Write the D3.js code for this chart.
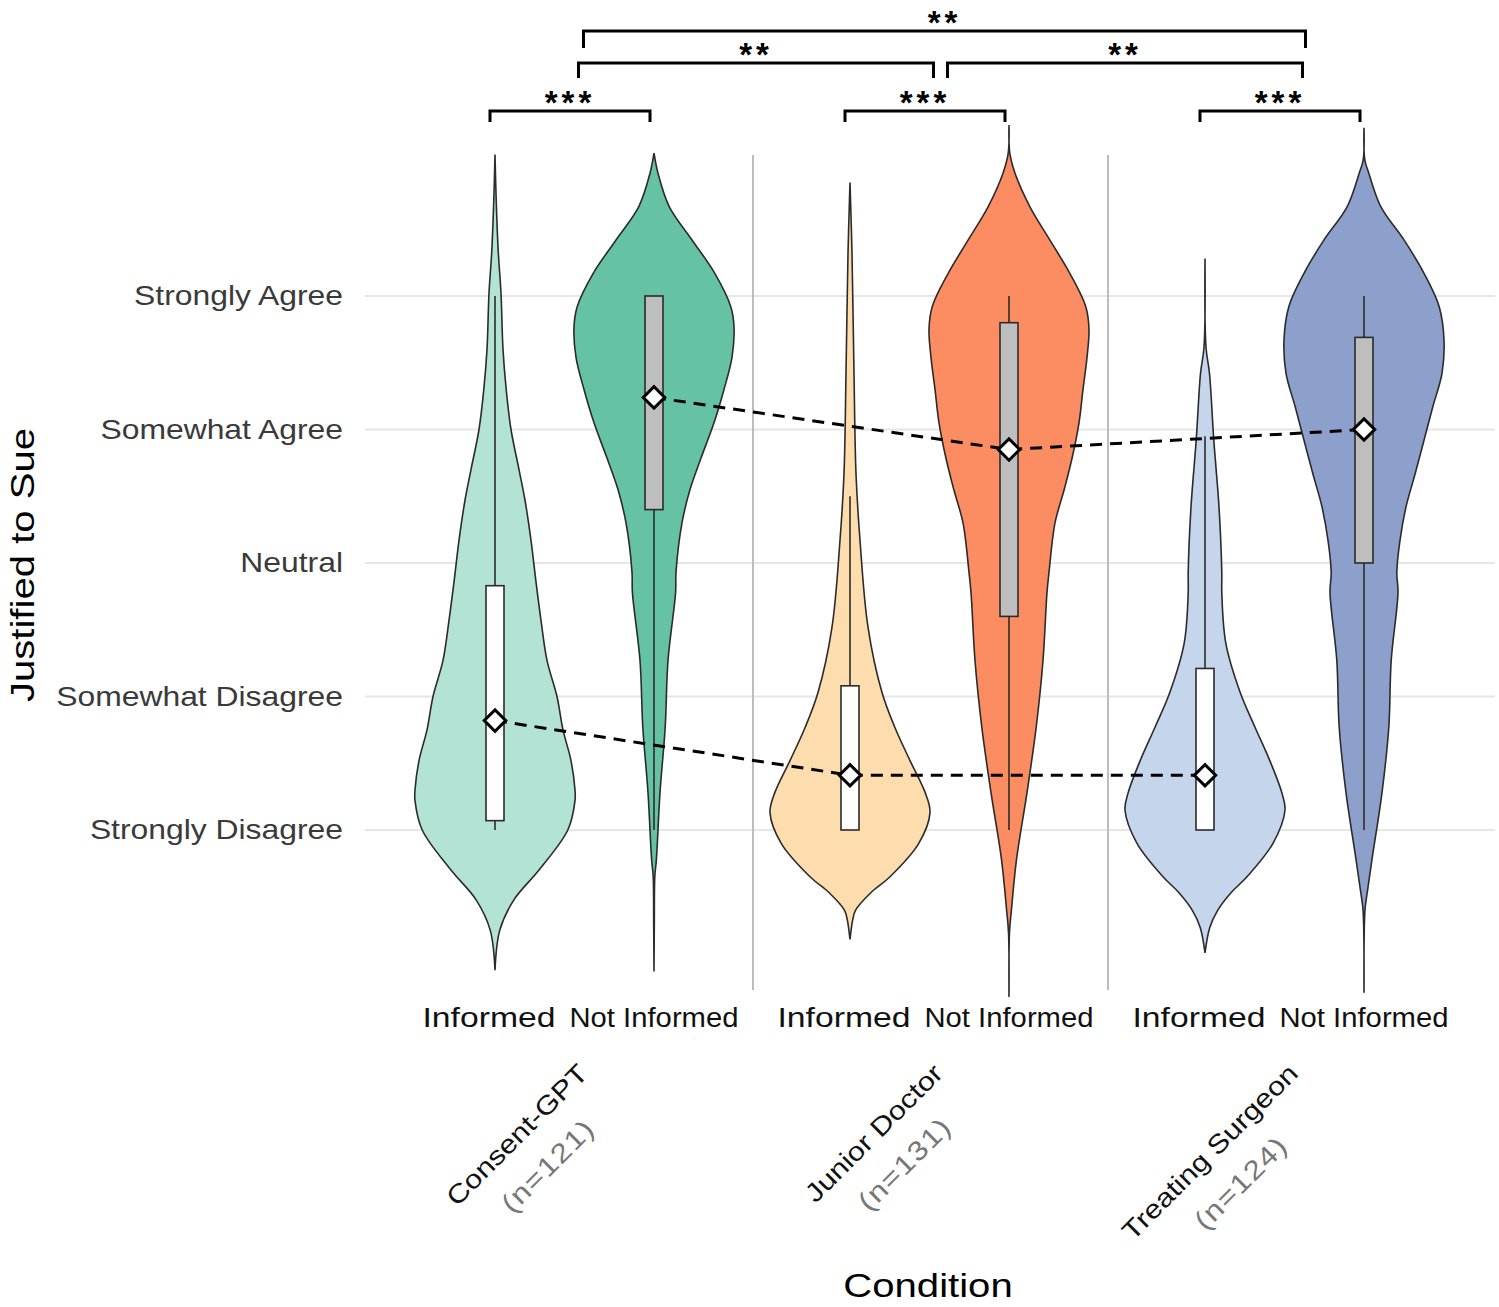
<!DOCTYPE html>
<html>
<head>
<meta charset="utf-8">
<script src="https://cdn.jsdelivr.net/npm/d3@7"></script>
<style>
body { margin: 0; background: #fff; }
text { font-family: "Liberation Sans", Arial, sans-serif; }
</style>
</head>
<body>
<svg id="chart" width="1499" height="1307"></svg>
<script>
// Data
var groups = ["Consent-GPT", "Junior Doctor", "Treating Surgeon"];
var groupN = ["(n=121)", "(n=131)", "(n=124)"];
var conditions = ["Informed", "Not Informed"];

var yLevels = [1, 2, 3, 4, 5];
var yLabels = ["Strongly Disagree", "Somewhat Disagree", "Neutral", "Somewhat Agree", "Strongly Agree"];

// violin outlines: [response value, relative density]
var consentInformed = [[-0.05,0],[0.25,0.06],[0.48,0.24],[0.70,0.55],[1.00,0.91],[1.22,1.0],[1.30,1.0],[1.52,0.95],[1.75,0.85],[2.00,0.775],[2.27,0.65],[2.57,0.575],[2.87,0.51],[3.17,0.45],[3.47,0.375],[3.70,0.30],[4.00,0.20],[4.30,0.14],[4.60,0.10],[5.02,0.075],[5.34,0.04],[5.72,0.015],[6.06,0]];
var consentNotInformed = [[-0.06,0],[0.30,0.004],[0.65,0.01],[0.78,0.03],[1.28,0.075],[1.77,0.14],[2.27,0.175],[2.78,0.27],[2.93,0.275],[3.30,0.35],[3.55,0.45],[3.79,0.59],[4.05,0.75],[4.30,0.875],[4.54,0.975],[4.77,1.0],[4.92,0.96],[5.17,0.76],[5.42,0.475],[5.67,0.19],[5.92,0.05],[6.07,0]];
var juniorInformed = [[0.18,0],[0.33,0.035],[0.40,0.07],[0.53,0.26],[0.65,0.50],[0.90,0.86],[1.13,1.0],[1.28,0.94],[1.52,0.75],[1.77,0.56],[2.03,0.40],[2.52,0.225],[3.17,0.125],[3.67,0.075],[4.42,0.05],[5.32,0.025],[5.85,0]];
var juniorNotInformed = [[-0.25,0],[0.23,0.006],[0.40,0.03],[0.78,0.094],[1.28,0.225],[1.77,0.34],[2.27,0.425],[2.78,0.475],[2.93,0.50],[3.30,0.575],[3.55,0.69],[3.79,0.79],[4.05,0.875],[4.30,0.925],[4.54,0.975],[4.75,1.0],[4.92,0.96],[5.17,0.76],[5.42,0.51],[5.67,0.26],[5.92,0.075],[6.07,0.01],[6.28,0]];
var surgeonInformed = [[0.08,0],[0.27,0.06],[0.40,0.16],[0.53,0.325],[0.65,0.525],[0.90,0.85],[1.15,1.0],[1.28,0.96],[1.52,0.81],[1.77,0.625],[2.03,0.44],[2.40,0.26],[2.78,0.21],[2.93,0.21],[3.42,0.175],[3.92,0.11],[4.42,0.056],[4.62,0.012],[5.28,0]];
var surgeonNotInformed = [[-0.22,0],[0.40,0.012],[0.53,0.04],[0.78,0.10],[1.28,0.225],[1.77,0.31],[2.27,0.34],[2.78,0.425],[2.93,0.41],[3.17,0.45],[3.42,0.525],[3.67,0.64],[3.92,0.75],[4.17,0.86],[4.42,0.975],[4.67,1.0],[4.92,0.94],[5.17,0.75],[5.42,0.50],[5.67,0.21],[5.92,0.06],[6.02,0.01],[6.26,0]];

// boxplot stats, order: CGPT inf, CGPT not, JD inf, JD not, TS inf, TS not
var whiskerLow  = [1, 1, 1, 1, 1, 1];
var q1          = [1.07, 3.40, 1.00, 2.60, 1.00, 3.00];
var q3          = [2.83, 5.00, 2.08, 4.80, 2.21, 4.69];
var whiskerHigh = [5.00, 5.00, 3.50, 5.00, 3.95, 5.00];
var means       = [1.82, 4.24, 1.41, 3.85, 1.41, 4.00];

// significance
var withinTests = ["***", "***", "***"];
var betweenTests = [["Consent-GPT", "Junior Doctor", "**"], ["Junior Doctor", "Treating Surgeon", "**"], ["Consent-GPT", "Treating Surgeon", "**"]];

var profiles = [consentInformed, consentNotInformed, juniorInformed, juniorNotInformed, surgeonInformed, surgeonNotInformed];
var fills = ["#b3e3d5", "#66c2a5", "#fddcae", "#fc8d62", "#c4d5ec", "#8da0cb"];
var boxFills = {"Informed": "#ffffff", "Not Informed": "#bebebe"};

var svg = d3.select("#chart");

// scales
var x = d3.scaleBand().domain(groups).range([398, 1463]);
var xInner = d3.scalePoint().domain(conditions).range([97, 256]);
var y = d3.scaleLinear().domain([1, 5]).range([830, 296]);
var w = d3.scaleLinear().domain([0, 1]).range([0, 80]);

function xPos(g, c) { return x(g) + xInner(c); }
function groupMid(g) { return x(g) + x.bandwidth() / 2; }

var violins = [];
groups.forEach(function(g, gi) {
    conditions.forEach(function(c, ci) {
        var i = gi * 2 + ci;
        violins.push({group: g, cond: c, i: i, cx: xPos(g, c), profile: profiles[i]});
    });
});

// grid
svg.append("g").selectAll("line")
    .data(yLevels).join("line")
    .attr("x1", 365).attr("x2", 1495)
    .attr("y1", d => y(d)).attr("y2", d => y(d))
    .attr("stroke", "#e6e6e6").attr("stroke-width", 2);

// group separators
svg.append("g").selectAll("line")
    .data(groups.slice(1)).join("line")
    .attr("x1", d => x(d)).attr("x2", d => x(d))
    .attr("y1", 155).attr("y2", 990)
    .attr("stroke", "#bdbdbd").attr("stroke-width", 2);

// violins
var area = d3.area()
    .curve(d3.curveCatmullRom.alpha(0.5))
    .y(d => y(d[0]));

svg.append("g").selectAll("path")
    .data(violins).join("path")
    .attr("d", v => area.x0(d => v.cx - w(d[1])).x1(d => v.cx + w(d[1]))(v.profile))
    .attr("fill", v => fills[v.i])
    .attr("stroke", "#2b2b2b").attr("stroke-width", 1.6);

// whiskers
svg.append("g").selectAll("line")
    .data(violins).join("line")
    .attr("x1", v => v.cx).attr("x2", v => v.cx)
    .attr("y1", v => y(whiskerHigh[v.i])).attr("y2", v => y(whiskerLow[v.i]))
    .attr("stroke", "#2b2b2b").attr("stroke-width", 1.6);

// boxes
var boxW = 18;
svg.append("g").selectAll("rect")
    .data(violins).join("rect")
    .attr("x", v => v.cx - boxW / 2).attr("width", boxW)
    .attr("y", v => y(q3[v.i])).attr("height", v => y(q1[v.i]) - y(q3[v.i]))
    .attr("fill", v => boxFills[v.cond])
    .attr("stroke", "#2b2b2b").attr("stroke-width", 1.6);

// mean lines
var meanLine = d3.line().x(v => v.cx).y(v => y(means[v.i]));
conditions.forEach(function(c) {
    svg.append("path")
        .attr("d", meanLine(violins.filter(v => v.cond === c)))
        .attr("fill", "none").attr("stroke", "#000")
        .attr("stroke-width", 3).attr("stroke-dasharray", "12,8");
});

// mean diamonds
var diamond = d3.symbol().type(d3.symbolSquare).size(230);
svg.append("g").selectAll("path")
    .data(violins).join("path")
    .attr("d", diamond())
    .attr("transform", v => "translate(" + v.cx + "," + y(means[v.i]) + ") rotate(45)")
    .attr("fill", "#fff").attr("stroke", "#000").attr("stroke-width", 3);

// y axis
var yAxis = svg.append("g")
    .attr("transform", "translate(343,0)")
    .call(d3.axisLeft(y).tickValues(yLevels).tickFormat((d, i) => yLabels[i]).tickSize(0).tickPadding(0));
yAxis.select(".domain").remove();
yAxis.selectAll("text")
    .attr("font-size", 27)
    .attr("font-family", "Liberation Sans, Arial, sans-serif")
    .attr("fill", "#3a3a3a")
    .attr("transform", "scale(1.18,1)");

svg.append("text")
    .attr("transform", "translate(34,565) rotate(-90) scale(1.18,1)")
    .attr("text-anchor", "middle")
    .attr("font-size", 34)
    .attr("fill", "#000")
    .text("Justified to Sue");

// condition labels
var condWidth = {"Informed": 133, "Not Informed": 169};
svg.append("g").selectAll("text")
    .data(violins).join("text")
    .attr("x", v => v.cx - (v.cond === "Informed" ? 6 : 0)).attr("y", 1027)
    .attr("text-anchor", "middle")
    .attr("font-size", 27)
    .attr("textLength", v => condWidth[v.cond])
    .attr("lengthAdjust", "spacingAndGlyphs")
    .attr("fill", "#111")
    .text(v => v.cond);

// group labels, rotated
groups.forEach(function(g, gi) {
    var lab = svg.append("g")
        .attr("transform", "translate(" + (groupMid(g) + 14) + ",1075) rotate(-45) scale(1.18,1)");
    var t1 = lab.append("text")
        .attr("text-anchor", "end")
        .attr("font-size", 26)
        .attr("fill", "#111")
        .text(g);
    var len = t1.node().getComputedTextLength();
    lab.append("text")
        .attr("x", -len / 2).attr("y", 44)
        .attr("text-anchor", "middle")
        .attr("font-size", 27)
        .attr("letter-spacing", 1)
        .attr("fill", "#777")
        .text(groupN[gi]);
});

svg.append("text")
    .attr("transform", "translate(928,1297) scale(1.18,1)")
    .attr("text-anchor", "middle")
    .attr("font-size", 34)
    .attr("fill", "#000")
    .text("Condition");

// significance brackets
function bracket(x1, x2, yTop, tick, label) {
    var b = svg.append("g");
    b.append("path")
        .attr("d", d3.line()([[x1, yTop + tick], [x1, yTop], [x2, yTop], [x2, yTop + tick]]))
        .attr("fill", "none").attr("stroke", "#000").attr("stroke-width", 3);
    b.append("text")
        .attr("x", (x1 + x2) / 2).attr("y", yTop + 3)
        .attr("text-anchor", "middle")
        .attr("font-family", "DejaVu Sans, sans-serif")
        .attr("font-size", 33).attr("font-weight", "bold")
        .attr("letter-spacing", 4)
        .attr("fill", "#000")
        .text(label);
}

groups.forEach(function(g, gi) {
    bracket(xPos(g, "Informed") - 5, xPos(g, "Not Informed") - 4, 111, 11, withinTests[gi]);
});

var betweenLayout = [[3, 3, 63, 15], [17, 17, 63, 15], [8, 20, 31, 17]];
betweenTests.forEach(function(t, ti) {
    var L = betweenLayout[ti];
    bracket(groupMid(t[0]) + L[0], groupMid(t[1]) + L[1], L[2], L[3], t[2]);
});
</script>
</body>
</html>
